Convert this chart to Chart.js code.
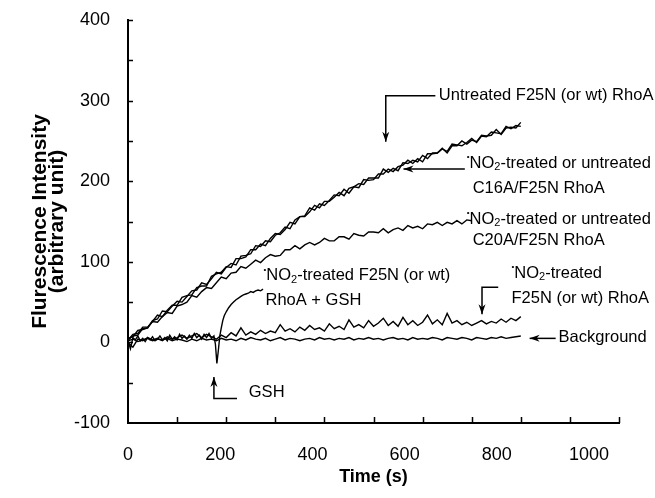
<!DOCTYPE html>
<html>
<head>
<meta charset="utf-8">
<script src="https://cdn.jsdelivr.net/npm/chart.js@4.4.1/dist/chart.umd.min.js"></script>
<style>
  html, body { margin: 0; padding: 0; background: #fff; }
</style>
</head>
<body>
<canvas id="myChart" width="655" height="498"></canvas>
<script>
// time axis, seconds (10 s steps)
var time10 = [0,10,20,30,40,50,60,70,80,90,100,110,120,130,140,150,160,170,180,190,
  200,210,220,230,240,250,260,270,280,290,300,310,320,330,340,350,360,370,380,390,
  400,410,420,430,440,450,460,470,480,490,500,510,520,530,540,550,560,570,580,590,
  600,610,620,630,640,650,660,670,680,690,700,710,720,730,740,750,760,770,780,790,800];

// Untreated F25N (or wt) RhoA
var untreated = [3,10,11,19,19,26,34,32,40,46,46,56,58,59,68,70,70,82,85,87,
  94,93,104,104,106,115,115,122,120,129,135,134,140,149,147,156,157,167,164,172,
  170,176,183,182,190,185,193,197,196,204,204,204,215,211,216,213,223,222,226,224,
  232,228,235,235,241,235,244,244,250,246,251,249,257,256,257,264,258,266,267,266,273];

// NO2-treated or untreated C16A/F25N RhoA
var c16a = [5,7,15,16,18,27,29,39,38,45,51,50,57,64,65,74,72,79,87,85,
  93,98,96,107,108,110,120,119,126,125,133,136,143,141,152,156,156,162,170,167,
  175,175,180,186,182,191,193,192,202,201,202,209,209,215,212,218,220,226,222,228,
  224,234,234,235,240,237,246,245,244,248,253,248,256,255,261,260,259,268,265,269,268];

// NO2-treated or untreated C20A/F25N RhoA (0 - 700 s)
var c20a = [3,8,9,17,18,26,25,32,37,36,45,47,50,58,56,63,68,67,74,81,
  79,86,87,94,92,97,102,99,105,109,107,108,115,115,120,116,121,124,121,124,
  129,126,126,131,131,128,135,133,132,137,137,136,141,136,140,142,139,145,142,144,
  141,147,146,149,145,149,147,151,147,152,151];

// NO2-treated F25N (or wt) RhoA + GSH (GSH added near 180 s)
var gshTime = [0,5,10,15,20,25,30,35,40,45,50,55,60,65,70,75,80,85,90,95,100,105,110,115,120,
  125,130,135,140,145,150,155,160,165,170,175,178,181,184,187,190,193,196,200,205,210,215,
  220,225,230,235,240,245,250,255,260,265,270,275];
var gshValues = [2,-8,6,3,8,2,5,1,6,3,7,2,4,8,3,6,2,9,4,7,3,10,5,8,4,
  9,5,11,6,9,4,10,6,11,5,8,-2,-26,-10,8,18,27,33,38,43,47,50,
  53,55,57,59,60,61,63,62,64,65,64,66];

// NO2-treated F25N (or wt) RhoA
var no2Treated = [0,-6,4,2,6,3,5,2,7,4,6,9,5,8,11,6,10,7,4,9,
  6,12,8,18,9,13,10,15,11,14,12,22,14,17,13,19,15,21,16,18,
  14,23,17,20,16,28,19,22,18,27,20,24,30,21,26,20,31,22,27,21,
  25,34,23,28,22,36,24,27,22,25,21,24,27,23,26,24,29,25,30,27,32];

// Background
var background = [2,4,1,3,5,2,4,3,5,2,4,3,1,4,2,5,3,4,2,5,
  3,4,2,5,3,6,4,3,5,2,4,6,3,5,4,2,4,5,3,6,
  4,5,3,5,4,6,3,5,4,6,4,5,3,5,6,4,5,3,6,4,
  5,4,6,5,3,6,5,4,6,5,3,6,5,4,6,5,7,5,6,7,8];

var xLabelTicks = [0, 200, 400, 600, 800, 1000];

function pts(xs, ys) {
  return ys.map(function(v, i) { return {x: xs[i], y: v}; });
}

var FONT = '"Liberation Sans", Arial, Helvetica, sans-serif';
Chart.defaults.font.family = FONT;
Chart.defaults.color = '#000';

// annotation texts, anchored in data units (time, value) at the left/middle of the text
var notes = [
  {t: 633, v: 306, rad: false, text: 'Untreated F25N (or wt) RhoA'},
  {t: 690, v: 222.5, rad: true, text: '-treated or untreated'},
  {t: 702, v: 191, rad: false, text: 'C16A/F25N RhoA'},
  {t: 690, v: 153, rad: true, text: '-treated or untreated'},
  {t: 702, v: 127, rad: false, text: 'C20A/F25N RhoA'},
  {t: 276, v: 83, rad: true, text: '-treated F25N (or wt)'},
  {t: 280, v: 52, rad: false, text: 'RhoA + GSH'},
  {t: 781, v: 86, rad: true, text: '-treated'},
  {t: 781, v: 55, rad: false, text: 'F25N (or wt) RhoA'},
  {t: 877, v: 6, rad: false, text: 'Background'},
  {t: 246, v: -62, rad: false, text: 'GSH'}
];
var arrows = [
  [[626, 306], [525, 306], [525, 249]],
  [[686, 215], [561, 215]],
  [[754, 68.5], [721, 68.5], [721, 35]],
  [[871, 5], [818, 5]],
  [[222, -69.5], [175, -69.5], [175, -43]]
];

var innerTicks = {
  id: 'innerTicks',
  afterDraw: function(chart) {
    var ctx = chart.ctx, a = chart.chartArea, x = chart.scales.x, y = chart.scales.y;
    ctx.save();
    ctx.strokeStyle = '#000';
    ctx.lineWidth = 1.5;
    ctx.beginPath();
    x.ticks.forEach(function(t) {
      if (t.value === 0) return;
      var px = Math.round(x.getPixelForValue(t.value)) + 0.5;
      ctx.moveTo(px, a.bottom);
      ctx.lineTo(px, a.bottom - 6);
    });
    y.ticks.forEach(function(t) {
      if (t.value === -100) return;
      var py = Math.round(y.getPixelForValue(t.value)) + 0.5;
      ctx.moveTo(a.left, py);
      ctx.lineTo(a.left + 5, py);
    });
    ctx.stroke();
    ctx.restore();
  }
};

var notesPlugin = {
  id: 'notes',
  afterDraw: function(chart) {
    var ctx = chart.ctx, x = chart.scales.x, y = chart.scales.y;
    ctx.save();
    ctx.fillStyle = '#000';
    ctx.strokeStyle = '#000';
    ctx.textBaseline = 'middle';
    ctx.textAlign = 'left';
    notes.forEach(function(n) {
      var px = x.getPixelForValue(n.t), py = y.getPixelForValue(n.v);
      var runs = n.rad ?
        [{s: '•', size: 8, dy: -6}, {s: 'NO', size: 16.5, dy: 0}, {s: '2', size: 11, dy: 4}, {s: n.text, size: 16.5, dy: 0}] :
        [{s: n.text, size: 16.5, dy: 0}];
      runs.forEach(function(r) {
        ctx.font = r.size + 'px ' + FONT;
        ctx.fillText(r.s, px, py + r.dy);
        px += ctx.measureText(r.s).width;
      });
    });
    ctx.lineWidth = 1.5;
    arrows.forEach(function(path) {
      var p = path.map(function(q) { return [x.getPixelForValue(q[0]), y.getPixelForValue(q[1])]; });
      ctx.beginPath();
      ctx.moveTo(p[0][0], p[0][1]);
      for (var i = 1; i < p.length; i++) ctx.lineTo(p[i][0], p[i][1]);
      ctx.stroke();
      var tip = p[p.length - 1], prev = p[p.length - 2];
      var ang = Math.atan2(tip[1] - prev[1], tip[0] - prev[0]);
      var len = 10, hw = 3.5;
      ctx.beginPath();
      ctx.moveTo(tip[0], tip[1]);
      ctx.lineTo(tip[0] - len * Math.cos(ang) + hw * Math.sin(ang), tip[1] - len * Math.sin(ang) - hw * Math.cos(ang));
      ctx.lineTo(tip[0] - len * 0.7 * Math.cos(ang), tip[1] - len * 0.7 * Math.sin(ang));
      ctx.lineTo(tip[0] - len * Math.cos(ang) - hw * Math.sin(ang), tip[1] - len * Math.sin(ang) + hw * Math.cos(ang));
      ctx.closePath();
      ctx.fill();
    });
    ctx.restore();
  }
};

function line(data) {
  return {data: data, borderColor: '#000', borderWidth: 1.4, pointRadius: 0, tension: 0, fill: false};
}

var ctx = document.getElementById('myChart').getContext('2d');
var myChart = new Chart(ctx, {
  type: 'line',
  data: {
    datasets: [
      line(pts(time10, background)),
      line(pts(time10, no2Treated)),
      line(pts(gshTime, gshValues)),
      line(pts(time10, c20a)),
      line(pts(time10, c16a)),
      line(pts(time10, untreated))
    ]
  },
  options: {
    responsive: false,
    animation: false,
    layout: {padding: {left: 0, right: 36, top: 20, bottom: 0}},
    plugins: {legend: {display: false}, tooltip: {enabled: false}},
    scales: {
      x: {
        type: 'linear', position: 'bottom', weight: 0, min: 0, max: 1000,
        ticks: {display: false, stepSize: 100},
        grid: {drawOnChartArea: false, drawTicks: false},
        border: {color: '#000', width: 2},
        afterFit: function(s) { s.height = 0; }
      },
      xLab: {
        type: 'linear', position: 'bottom', weight: 1, min: 0, max: 1065,
        afterBuildTicks: function(s) { s.ticks = xLabelTicks.map(function(v) { return {value: v}; }); },
        ticks: {autoSkip: false, maxRotation: 0, padding: 13, font: {size: 18}, color: '#000',
          callback: function(v) { return String(v); }},
        grid: {display: false},
        border: {display: false},
        title: {display: true, text: 'Time (s)', color: '#000',
          font: {size: 18, weight: 'bold', lineHeight: 1}, padding: {top: 0, bottom: 12}},
        afterFit: function(s) { s.height = 75; }
      },
      y: {
        type: 'linear', position: 'left', min: -100, max: 400,
        ticks: {stepSize: 50, autoSkip: false, padding: 0, font: {size: 18}, color: '#000',
          callback: function(v) { return v % 100 === 0 ? v : ''; }},
        grid: {drawOnChartArea: false, drawTicks: true, tickLength: 18, tickColor: 'rgba(0,0,0,0)'},
        border: {color: '#000', width: 2},
        title: {display: true, text: ['Flurescence Intensity', '(arbitrary unit)'], color: '#000',
          font: {size: 21, weight: 'bold', lineHeight: 0.83}, padding: {top: 31, bottom: 0}},
        afterFit: function(s) { s.width = 128; }
      }
    }
  },
  plugins: [innerTicks, notesPlugin]
});
</script>
</body>
</html>
